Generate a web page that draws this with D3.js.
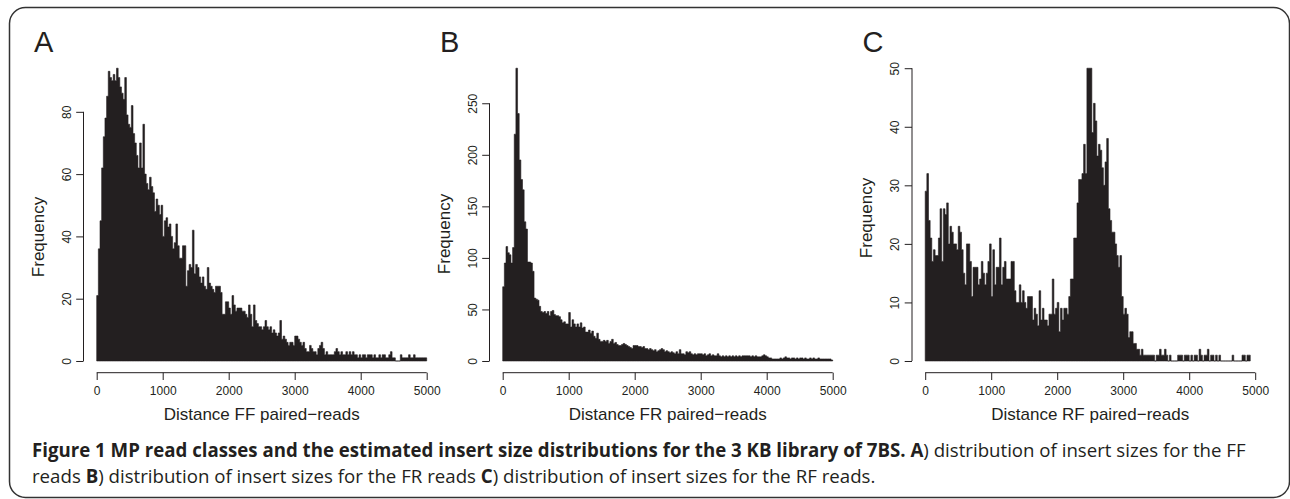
<!DOCTYPE html>
<meta charset="utf-8">
<head>
<script src="https://d3js.org/d3.v7.min.js"></script>
<style>
  body { margin: 0; background: #fff; }
  svg text { font-family: "Liberation Sans", Arial, Helvetica, sans-serif; fill: #231f20; }
  .axis line, .axis path { stroke: #231f20; stroke-width: 1px; }
  .caption text { font-family: "Open Sans", "Noto Sans", sans-serif; }
</style>
</head>
<body>
<svg id="fig" width="1290" height="499"></svg>
<script>
// histogram bins are 25 bp wide, starting at 0
var binWidth = 25;

// FF reads (panel A)
var ffCounts = [
  21,36,45,62,72,78,85,93,91,90, 92,90,94,91,88,86,84,91,79,76,
  75,82,73,70,66,62,70,62,76,60, 57,55,59,56,54,48,52,50,47,50,
  40,45,46,43,44,40,36,38,44,37, 33,33,37,37,24,29,31,30,42,28,
  31,30,27,25,27,24,23,30,25,24, 23,22,24,24,24,22,15,15,19,19,
  17,15,21,18,16,17,17,17,16,16, 15,14,18,15,11,18,13,12,11,11,
  10,11,13,11,10,11,9,10,9,8, 9,13,7,8,7,6,5,6,6,5,
  8,8,7,6,5,6,4,3,3,5, 4,3,3,2,4,5,6,4,2,3,
  2,2,2,2,3,4,3,2,3,2, 2,3,2,3,2,3,2,2,1,2,
  1,2,2,1,2,2,2,1,2,1, 1,2,1,2,2,1,1,2,3,1,
  1,0,0,0,2,1,1,1,1,2, 1,1,2,1,1,1,1,1,1,1
];

// FR reads (panel B)
var frCounts = [
  72,95,111,105,103,95,110,220,284,240, 195,176,166,135,128,96,96,95,87,61,
  60,59,53,48,47,48,46,48,44,48, 49,45,44,44,43,40,37,38,36,36,
  47,33,40,36,33,36,33,37,32,33, 28,28,30,27,29,24,22,27,21,19,
  19,20,19,20,17,19,21,17,18,16, 15,15,16,17,16,15,14,13,12,15,
  15,15,14,14,13,14,12,12,11,12, 11,10,11,9,10,11,12,11,9,10,
  9,8,9,8,7,9,7,11,7,7, 6,9,8,9,7,6,7,6,7,7,
  7,6,7,5,6,7,5,6,5,5, 7,5,4,5,4,5,4,5,4,5,
  4,5,4,5,4,5,5,5,5,5, 4,5,4,5,4,4,4,5,6,5,
  4,3,3,2,2,2,2,2,3,2, 3,4,3,3,2,3,3,2,3,2,
  3,3,2,3,2,2,3,2,3,2, 2,3,2,2,2,2,2,2,2,1
];

// RF reads (panel C)
var rfCounts = [
  29,32,24,21,17,19,18,18,21,26, 17,26,25,27,20,23,22,20,20,19,
  23,22,19,15,13,20,20,17,11,16, 16,16,13,14,17,15,13,15,17,20,
  11,19,13,16,16,21,13,16,17,14, 14,14,17,17,12,10,10,13,10,12,
  10,9,11,11,11,7,9,8,6,12, 7,9,7,7,6,8,8,14,8,9,
  10,5,9,7,9,9,8,11,14,14, 21,21,27,31,31,32,37,32,50,50,
  50,39,44,41,35,37,36,33,30,34, 38,26,24,22,22,20,18,16,18,11,
  8,9,8,4,5,5,3,3,2,2, 1,2,1,1,1,1,1,1,1,0,
  1,1,2,1,1,2,1,0,1,0, 0,0,0,1,1,1,0,1,1,1,
  0,1,0,1,1,0,2,1,0,1, 1,2,0,1,1,0,1,0,1,0,
  0,0,0,0,0,0,1,0,0,0, 0,0,1,1,0,1,1
];

var xTicks = [0, 1000, 2000, 3000, 4000, 5000];
var ffTicks = [0, 20, 40, 60, 80];
var frTicks = [0, 50, 100, 150, 200, 250];
var rfTicks = [0, 10, 20, 30, 40, 50];
var letters = ["A", "B", "C"];
var xTitles = ["Distance FF paired\u2212reads", "Distance FR paired\u2212reads", "Distance RF paired\u2212reads"];
var yTitle = "Frequency";

var svg = d3.select("#fig");
var ink = "#231f20";

// rounded frame round the whole figure
svg.append("rect")
  .attr("x", 9.5).attr("y", 7.5)
  .attr("width", 1280).attr("height", 490)
  .attr("rx", 16).attr("ry", 16)
  .attr("fill", "none")
  .attr("stroke", "#333")
  .attr("stroke-width", 1.5);

var panels = [
  { counts: ffCounts, ticks: ffTicks, left: 83.5, ylabY: 237 },
  { counts: frCounts, ticks: frTicks, left: 489.5, ylabY: 234 },
  { counts: rfCounts, ticks: rfTicks, left: 912, ylabY: 218 }
];

var plotW = 356.4, plotTop = 56.5, plotBottom = 372.7;

panels.forEach(function(p, i) {
  var g = svg.append("g");
  // R style: 4% padding round the data range
  var x = d3.scaleLinear().domain([-200, 5200]).range([p.left, p.left + plotW]);
  var m = d3.max(p.counts);
  var y = d3.scaleLinear().domain([-0.04 * m, 1.04 * m]).range([plotBottom, plotTop]);

  // bars drawn as one stepped outline, so no seams show between them
  var pts = p.counts.map(function(v, k) { return [k * binWidth, v]; });
  pts.push([p.counts.length * binWidth, p.counts[p.counts.length - 1]]);
  var area = d3.area()
    .curve(d3.curveStepAfter)
    .x(function(d) { return x(d[0]); })
    .y0(y(0))
    .y1(function(d) { return y(d[1]); });
  g.append("path")
    .attr("d", area(pts))
    .attr("fill", ink)
    .attr("stroke", ink)
    .attr("stroke-width", 0.6);

  // y axis
  var ya = g.append("g")
    .attr("class", "axis")
    .attr("transform", "translate(" + p.left + ",0)")
    .call(d3.axisLeft(y).tickValues(p.ticks).tickFormat(d3.format("d")).tickSize(7.3).tickSizeOuter(0));
  ya.select(".domain").remove();
  ya.append("line")
    .attr("y1", y(p.ticks[0])).attr("y2", y(p.ticks[p.ticks.length - 1]));
  ya.selectAll(".tick text")
    .attr("x", null).attr("dy", null)
    .attr("text-anchor", "middle")
    .attr("transform", "translate(-13,0) rotate(-90)")
    .style("font-size", "12px")
    .style("font-family", "'Liberation Sans', Arial, sans-serif")
    .attr("fill", ink);

  // x axis
  var xa = g.append("g")
    .attr("class", "axis")
    .attr("transform", "translate(0," + plotBottom + ")")
    .call(d3.axisBottom(x).tickValues(xTicks).tickFormat(d3.format("d")).tickSize(7.3).tickSizeOuter(0));
  xa.select(".domain").remove();
  xa.append("line")
    .attr("x1", x(xTicks[0])).attr("x2", x(xTicks[xTicks.length - 1]));
  xa.selectAll(".tick text")
    .attr("y", 22.6).attr("dy", null)
    .style("font-size", "12px")
    .style("font-family", "'Liberation Sans', Arial, sans-serif")
    .attr("fill", ink);

  // titles
  g.append("text")
    .attr("x", x(2500)).attr("y", 420)
    .attr("text-anchor", "middle")
    .style("font-size", "17px")
    .text(xTitles[i]);

  g.append("text")
    .attr("transform", "translate(" + (p.left - 40) + "," + p.ylabY + ") rotate(-90)")
    .attr("text-anchor", "middle")
    .style("font-size", "17px")
    .text(yTitle);

  g.append("text")
    .attr("x", p.left - 49.5).attr("y", 52)
    .style("font-size", "29px")
    .text(letters[i]);
});

// caption
var cap = svg.append("g").attr("class", "caption");
var line1 = cap.append("text").attr("x", 32).attr("y", 457).style("font-size", "15px");
line1.append("tspan").attr("font-weight", "bold")
  .text("Figure 1 MP read classes and the estimated insert size distributions for the 3 KB library of 7BS. A");
line1.append("tspan").text(") distribution of insert sizes for the FF");

var line2 = cap.append("text").attr("x", 32).attr("y", 483).style("font-size", "15px");
line2.append("tspan").text("reads ");
line2.append("tspan").attr("font-weight", "bold").text("B");
line2.append("tspan").text(") distribution of insert sizes for the FR reads ");
line2.append("tspan").attr("font-weight", "bold").text("C");
line2.append("tspan").text(") distribution of insert sizes for the RF reads.");

// fit the first caption line to its width in the figure
var w = line1.node().getComputedTextLength();
var fs = 15 * 1214 / w;
line1.style("font-size", fs + "px");
line2.style("font-size", fs + "px");
</script>
</body>
